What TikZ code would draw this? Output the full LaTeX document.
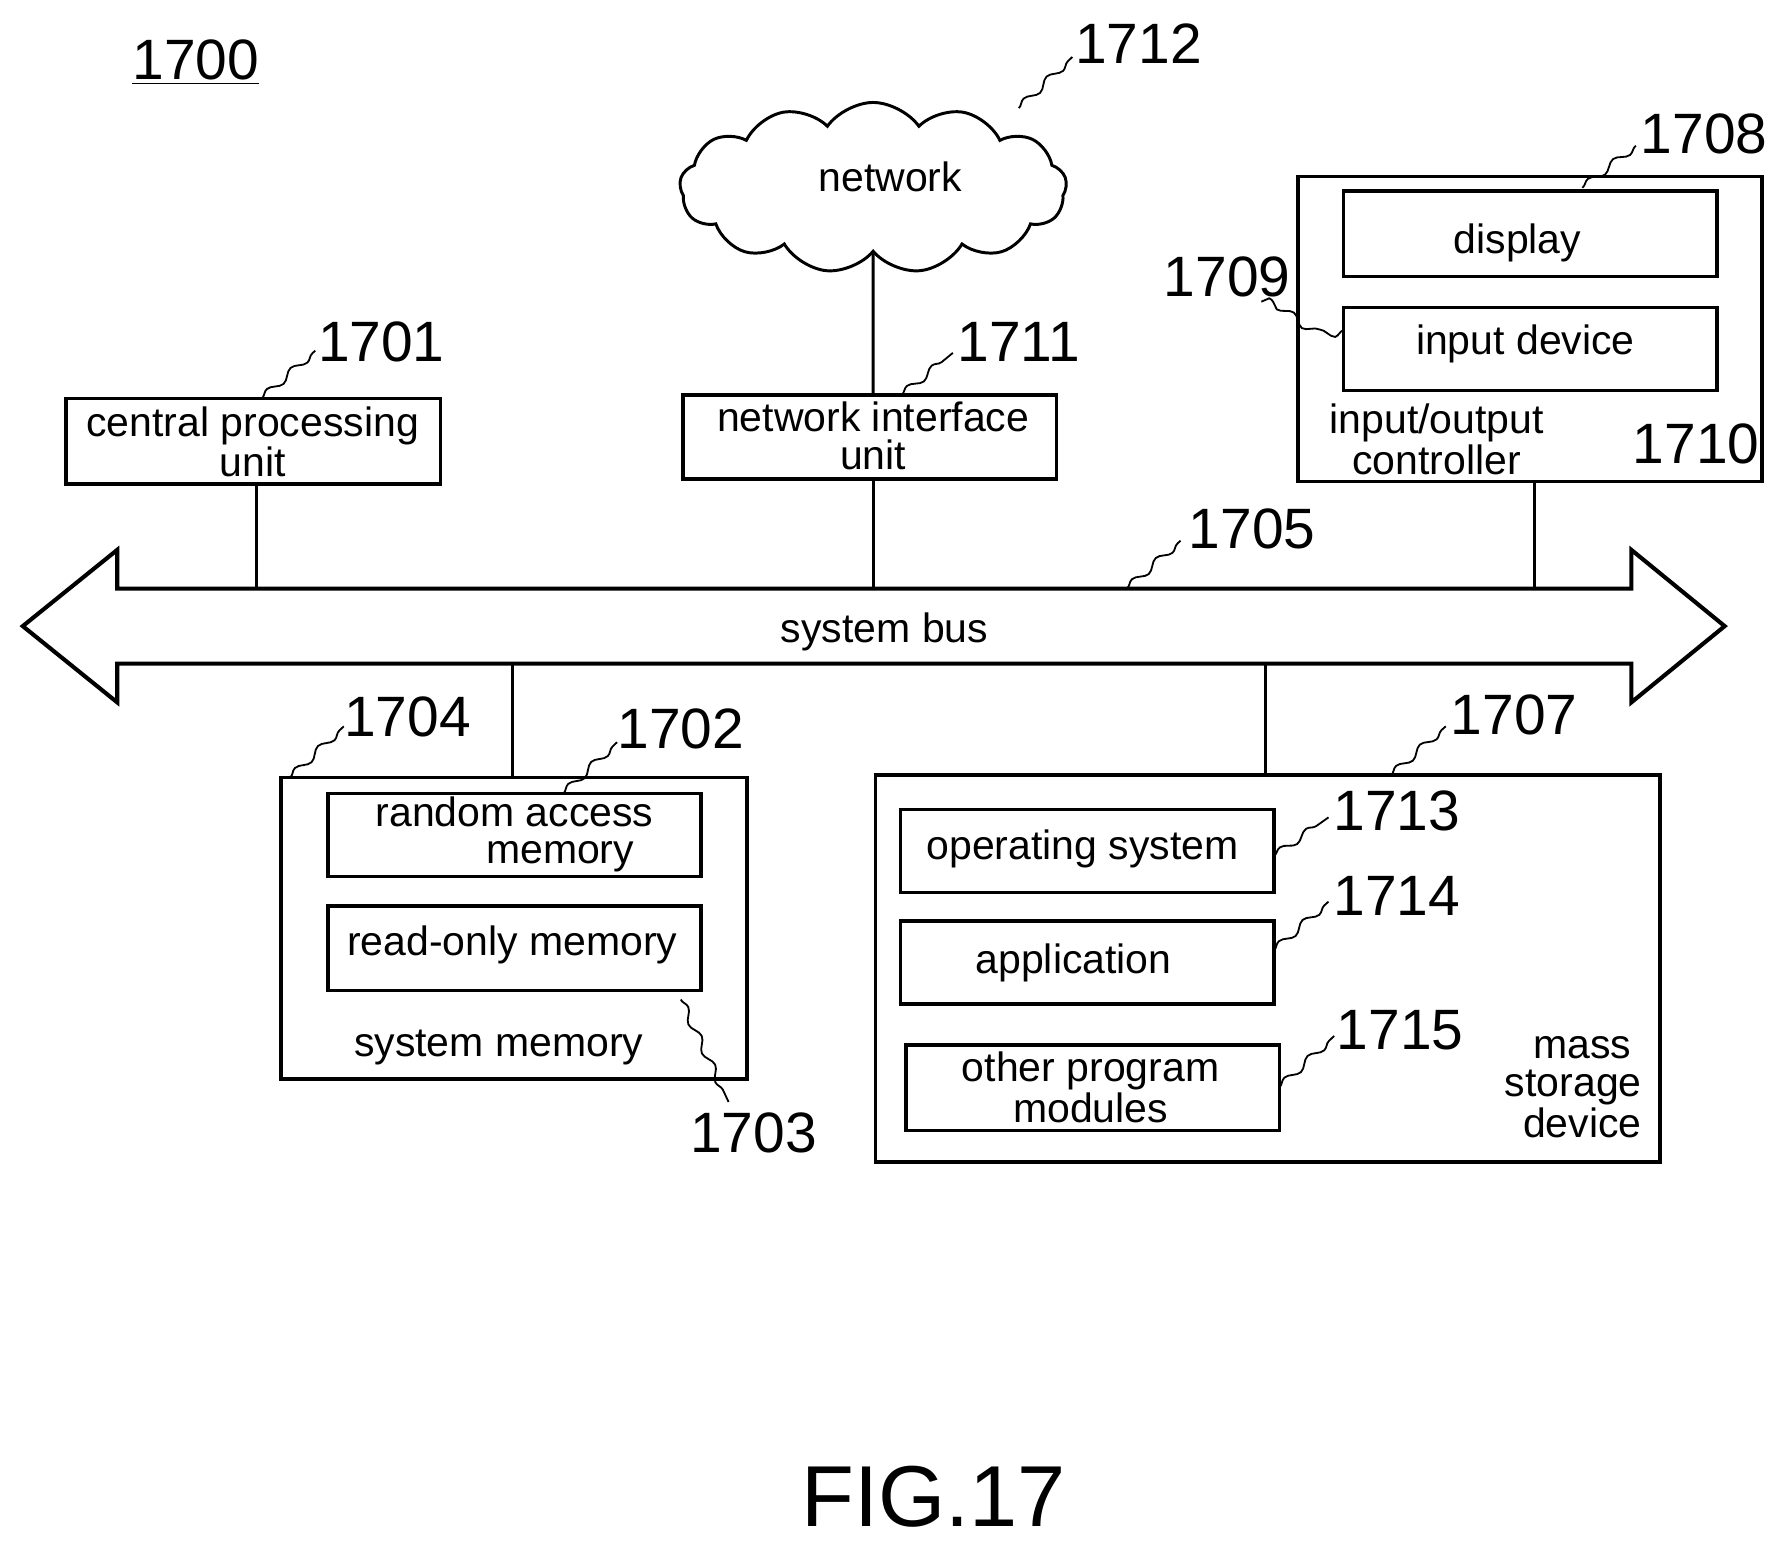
\documentclass[tikz,border=0pt]{standalone}
\usepackage{fontspec}
\setmainfont{Liberation Sans}
\usetikzlibrary{shapes.symbols,decorations.pathmorphing}
\begin{document}
\begin{tikzpicture}[x=0.5pt,y=-0.5pt,
  box/.style={draw,line width=1.6pt},
  txt/.style={font=\fontsize{18}{16.5}\selectfont,align=center,inner sep=0pt},
  num/.style={font=\fontsize{25}{25}\selectfont,inner sep=0pt},
  lead/.style={decorate,decoration={snake,amplitude=1.6pt,segment length=14pt},line width=0.8pt},
  ln/.style={line width=1.3pt}]
\useasboundingbox (0,0) rectangle (1568,1360);
\node[font=\fontsize{25}{25}\selectfont] (t1700) at (172,55) {\underline{1700}};
% cloud
\node[cloud,draw,line width=1.3pt,cloud puffs=13,cloud puff arc=110,aspect=2.2,minimum width=170,minimum height=75,inner sep=0pt] (net) at (767,165) {};
\node[txt] (nettxt) at (782,155) {network};
% boxes
\draw[box] (58,350) rectangle (387,425);
\node[txt] (cpu) at (222,388) {central processing\\unit};
\draw[box] (600,347) rectangle (928,421);
\node[txt] (niu) at (767,383) {network interface\\unit};
\draw[box] (1140,155) rectangle (1548,423);
\draw[box] (1180,168) rectangle (1508,243);
\node[txt] (disp) at (1333,213) {display};
\draw[box] (1180,270) rectangle (1508,343);
\node[txt] (inp) at (1340,302) {input device};
\node[txt] (ioc) at (1262,386) {input/output\\controller};
% bus
\draw[line width=1.8pt] (20,550) -- (103,483) -- (103,517) -- (1433,517) -- (1433,483) -- (1515,550) -- (1433,617) -- (1433,583) -- (103,583) -- (103,617) -- cycle;
\node[txt] (bus) at (777,555) {system bus};
% system memory
\draw[box] (247,683) rectangle (656,948);
\draw[box] (288,697) rectangle (616,770);
\node[txt] (ram) at (452,733) {random access\\\hspace*{40pt}memory};
\draw[box] (288,796) rectangle (616,870);
\node[txt] (rom) at (450,830) {read-only memory};
\node[txt] (sm) at (438,920) {system memory};
% mass storage
\draw[box] (769,681) rectangle (1458,1021);
\draw[box] (791,711) rectangle (1119,784);
\node[txt] (os) at (951,746) {operating system};
\draw[box] (791,809) rectangle (1119,882);
\node[txt] (app) at (943,846) {application};
\draw[box] (796,918) rectangle (1124,993);
\node[txt] (opm) at (958,955) {other program\\modules};
\node[txt] (msd) at (1382,955) {\hspace*{8pt}mass\\storage\\\hspace*{8pt}device};
% connectors
\draw[ln] (net.south) -- (767,347);
\draw[ln] (225,425) -- (225,517);
\draw[ln] (767,421) -- (767,517);
\draw[ln] (1348,423) -- (1348,517);
\draw[ln] (450,583) -- (450,683);
\draw[ln] (1112,583) -- (1112,681);
% labels
\node[num] (l1712) at (1000,38) {1712};  \draw[lead] (895,95) -- (942,50);
\node[num] (l1708) at (1497,118) {1708}; \draw[lead] (1390,165) -- (1437,128);
\node[num] (l1709) at (1078,243) {1709}; \draw[lead] (1180,290) to[out=200,in=20] (1108,265);
\node[num] (l1701) at (335,300) {1701};  \draw[lead] (230,350) -- (277,308);
\node[num] (l1711) at (895,300) {1711};  \draw[lead] (792,347) -- (837,310);
\node[num] (l1710) at (1490,390) {1710};
\node[num] (l1705) at (1100,465) {1705}; \draw[lead] (990,517) -- (1037,475);
\node[num] (l1704) at (358,630) {1704};  \draw[lead] (255,683) -- (302,638);
\node[num] (l1702) at (598,640) {1702};  \draw[lead] (495,697) -- (542,652);
\node[num] (l1707) at (1330,628) {1707}; \draw[lead] (1222,681) -- (1270,638);
\node[num] (l1713) at (1227,712) {1713}; \draw[lead] (1119,752) -- (1167,718);
\node[num] (l1714) at (1227,787) {1714}; \draw[lead] (1119,835) -- (1167,792);
\node[num] (l1715) at (1230,905) {1715}; \draw[lead] (1124,955) -- (1172,910);
\node[num] (l1703) at (662,995) {1703};  \draw[lead] (598,878) -- (640,968);
\node[font=\fontsize{38}{38}\selectfont] (fig) at (820,1315) {FIG.17};
\end{tikzpicture}
\end{document}
